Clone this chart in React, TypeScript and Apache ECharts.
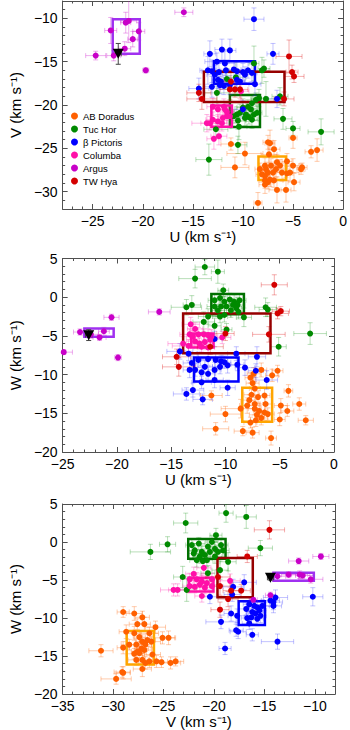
import { useEffect, useRef } from 'react';
import * as echarts from 'echarts';

const GROUP_NAMES = ['AB Doradus', 'Tuc Hor', 'β Pictoris', 'Columba', 'Argus', 'TW Hya'];
const POINT_COLORS = ['#ff6000', '#008a00', '#0000ff', '#ff10a8', '#c800c8', '#d40000'];
const ERR_COLORS = [
  'rgba(255,110,20,0.35)', 'rgba(0,140,0,0.28)', 'rgba(40,40,255,0.28)',
  'rgba(255,30,170,0.32)', 'rgba(200,0,200,0.32)', 'rgba(220,0,0,0.32)',
];
const BOX_COLORS = ['#ffa500', '#007000', '#0000ff', '#ff10a8', '#a030f0', '#960000'];

// Box extents: [Umin, Umax, Vmin, Vmax, Wmin, Wmax]
const abdorBox = [-8.45, -5.7, -28.65, -25.95, -16.1, -11.7];
const tucBox = [-11.3, -8.3, -22.55, -18.85, -2.2, 0.4];
const betaBox = [-12.9, -8.8, -17.55, -14.95, -10.9, -7.8];
const columbaBox = [-13.15, -11.1, -22.5, -20.05, -6.5, -4.7];
const argusBox = [-23.0, -20.3, -14.1, -10.1, -5.1, -4.05];
const twhyaBox = [-13.9, -5.85, -19.65, -16.15, -7.25, -2.1];

// Points: [x, y, xErr, yErr]
// ---------- U vs V ----------
const abdorUV = [
  [-8.5, -31.3, 0.4, 1.2], [-7.8, -29.2, 0.6, 1.0], [-7.5, -28.9, 0.5, 0.8], [-6.6, -29.8, 0.8, 1.5],
  [-5.7, -29.8, 0.5, 1.4], [-4.9, -28.9, 0.6, 1.0], [-4.2, -27.4, 0.4, 0.6], [-4.1, -27.2, 0.5, 0.5],
  [-5.0, -27.0, 0.6, 0.8], [-5.3, -27.8, 0.9, 1.0], [-5.6, -26.5, 0.5, 0.9], [-6.6, -26.6, 0.8, 0.9],
  [-6.9, -25.1, 0.6, 1.0], [-5.0, -23.8, 0.4, 1.2], [-3.2, -25.4, 0.6, 0.7], [-2.6, -25.2, 0.6, 1.3],
  [-11.2, -24.5, 1.0, 0.7], [-9.8, -25.6, 1.8, 1.3], [-10.8, -27.2, 1.4, 1.2], [-7.3, -24.4, 0.5, 1.5],
  [-7.5, -24.3, 0.5, 0.8], [-7.4, -25.7, 0.8, 1.0], [-7.8, -27.0, 0.6, 0.9], [-7.7, -27.4, 0.7, 0.8],
  [-7.5, -27.8, 0.5, 0.7], [-7.2, -27.0, 0.6, 0.8], [-7.0, -27.8, 0.7, 1.0], [-7.8, -28.2, 0.5, 0.6],
  [-8.1, -28.0, 0.6, 0.9], [-7.3, -28.6, 0.6, 0.8], [-6.7, -27.4, 0.8, 0.9], [-6.3, -27.0, 0.6, 0.7],
  [-6.1, -27.8, 0.7, 1.0], [-6.9, -28.7, 0.9, 0.8], [-7.8, -28.7, 0.6, 0.9], [-8.3, -27.4, 0.5, 0.7],
  [-5.6, -27.9, 0.6, 0.8],
];
const tucUV = [
  [-8.9, -15.2, 0.5, 2.0], [-7.9, -15.8, 0.6, 1.0], [-8.1, -16.0, 0.7, 1.5], [-11.6, -17.0, 0.8, 1.2],
  [-10.7, -16.8, 1.0, 1.8], [-12.6, -18.6, 1.2, 1.5], [-6.3, -19.0, 0.8, 1.0], [-7.7, -19.3, 1.5, 2.0],
  [-6.0, -21.6, 0.9, 1.2], [-5.0, -22.7, 0.7, 0.8], [-2.2, -23.1, 1.3, 1.5], [-12.7, -22.8, 1.2, 1.0],
  [-10.4, -22.5, 0.8, 1.5], [-10.5, -24.6, 0.9, 1.0], [-13.4, -26.3, 1.3, 1.8], [-10.0, -20.3, 0.6, 1.0],
  [-9.5, -20.2, 0.5, 0.8], [-9.1, -19.8, 0.6, 0.9], [-8.7, -19.4, 0.5, 0.8], [-8.4, -19.2, 0.6, 1.0],
  [-9.2, -20.5, 0.7, 0.9], [-9.7, -21.1, 0.5, 0.8], [-10.3, -20.9, 0.6, 1.0], [-10.6, -21.1, 0.7, 0.9],
  [-10.9, -21.3, 0.5, 0.8], [-10.5, -21.8, 0.8, 1.0], [-9.8, -21.5, 0.6, 0.9], [-9.4, -21.4, 0.5, 0.8],
  [-8.9, -21.1, 0.6, 0.7], [-8.6, -20.9, 0.5, 0.9], [-9.1, -21.7, 0.6, 1.0],
];
const betaUV = [
  [-8.9, -10.1, 1.0, 1.3], [-13.3, -14.1, 0.6, 1.5], [-12.1, -13.6, 0.7, 1.2], [-11.3, -13.7, 0.6, 1.3],
  [-7.0, -14.1, 0.6, 1.2], [-12.6, -15.0, 1.2, 1.0], [-11.8, -15.2, 1.0, 1.4], [-13.5, -16.0, 0.8, 1.6],
  [-13.1, -16.1, 1.0, 1.3], [-12.4, -16.2, 0.7, 1.0], [-11.7, -16.0, 0.6, 1.2], [-10.9, -15.9, 0.7, 1.0],
  [-10.6, -16.1, 0.8, 1.1], [-10.0, -16.2, 0.7, 1.0], [-9.5, -16.0, 0.6, 0.9], [-9.1, -16.3, 0.5, 1.0],
  [-9.8, -16.5, 0.7, 0.9], [-12.8, -16.5, 0.8, 1.1], [-12.5, -17.1, 0.6, 1.0], [-12.2, -17.3, 0.7, 0.9],
  [-12.3, -17.7, 0.8, 1.0], [-13.1, -17.9, 0.7, 1.2], [-11.9, -17.8, 0.6, 1.0], [-11.3, -17.7, 0.7, 1.1],
  [-10.6, -17.1, 0.6, 0.9], [-10.3, -17.3, 0.5, 1.0], [-8.8, -17.6, 0.6, 1.3], [-14.4, -18.1, 1.0, 1.2],
  [-6.6, -19.3, 0.9, 1.0], [-10.0, -20.5, 0.8, 1.0],
];
const columbaUV = [
  [-10.2, -18.4, 0.8, 1.0], [-13.0, -20.2, 0.6, 1.0], [-12.5, -20.5, 0.7, 0.8], [-11.9, -20.2, 0.5, 0.9],
  [-11.6, -21.3, 0.6, 0.8], [-11.3, -21.3, 0.5, 1.0], [-13.6, -22.1, 1.5, 1.0], [-13.3, -22.1, 0.9, 0.8],
  [-13.0, -21.7, 0.7, 0.9], [-12.5, -21.9, 0.6, 0.8], [-12.0, -21.5, 0.5, 0.9], [-11.6, -20.8, 0.7, 1.0],
  [-12.4, -23.6, 0.8, 1.0], [-12.9, -23.9, 0.7, 1.2], [-11.8, -20.5, 0.6, 0.8], [-12.1, -22.1, 0.5, 0.9],
];
const argusUV = [
  [-15.9, -9.3, 0.9, 0.5], [-23.2, -11.4, 0.6, 1.5], [-21.7, -10.5, 0.5, 1.2], [-21.4, -10.3, 0.8, 2.5],
  [-20.4, -11.5, 0.6, 1.0], [-21.0, -12.4, 0.5, 0.9], [-21.8, -13.5, 0.6, 0.8], [-24.7, -14.3, 1.0, 0.5],
  [-22.9, -14.3, 0.7, 0.6], [-19.7, -16.0, 0.3, 0.3],
];
const twhyaUV = [
  [-5.4, -14.4, 1.3, 1.9], [-5.1, -16.2, 0.6, 0.8], [-4.9, -16.7, 1.0, 0.7], [-11.2, -17.3, 0.8, 1.0],
  [-11.3, -18.2, 1.0, 1.2], [-10.8, -18.2, 0.7, 0.9], [-10.3, -18.2, 0.8, 1.0], [-14.4, -18.6, 1.2, 1.0],
  [-14.1, -19.3, 1.5, 1.2], [-5.9, -19.3, 1.0, 0.8],
];
const starUV = [[-22.45, -14.1, 0.3, 1.2]];

// ---------- U vs W ----------
const abdorUW = [
  [-5.2, -9.5, 0.5, 0.7], [-5.7, -10.1, 0.6, 0.8], [-6.7, -9.4, 0.5, 0.9], [-7.4, -9.9, 0.6, 0.8],
  [-7.7, -10.4, 0.5, 0.7], [-7.5, -11.1, 0.6, 0.8], [-7.3, -11.8, 0.5, 0.9], [-7.6, -12.6, 0.7, 0.8],
  [-7.8, -13.3, 0.6, 0.7], [-7.3, -13.8, 0.5, 0.9], [-8.0, -14.0, 0.7, 1.0], [-7.3, -14.4, 0.6, 0.8],
  [-6.9, -14.7, 0.5, 0.7], [-7.1, -15.2, 0.7, 0.8], [-6.7, -15.6, 0.6, 0.9], [-7.2, -15.9, 0.5, 0.8],
  [-7.7, -16.2, 0.6, 0.7], [-6.4, -14.9, 0.7, 1.0], [-6.3, -13.8, 0.6, 0.8], [-6.4, -12.7, 0.5, 0.9],
  [-7.0, -12.9, 0.6, 0.8], [-4.2, -12.1, 0.4, 0.8], [-4.9, -14.0, 0.6, 0.9], [-5.0, -15.8, 0.5, 0.8],
  [-4.3, -14.7, 0.6, 0.7], [-3.2, -13.8, 0.6, 0.8], [-2.6, -15.9, 0.7, 0.6], [-8.6, -14.4, 1.8, 1.2],
  [-10.0, -15.1, 1.4, 1.0], [-11.3, -12.7, 1.0, 0.6], [-10.9, -17.0, 1.2, 0.8], [-8.4, -17.3, 0.8, 0.6],
  [-7.5, -17.5, 0.6, 0.7], [-5.8, -18.2, 0.5, 0.9], [-6.1, -15.1, 0.6, 0.8],
];
const tucUW = [
  [-11.9, 3.9, 0.9, 1.0], [-10.7, 3.3, 0.6, 1.5], [-12.8, 2.4, 1.5, 1.2], [-10.2, 0.9, 0.5, 0.8],
  [-13.6, -1.3, 1.4, 1.0], [-13.1, -1.0, 0.8, 1.2], [-12.0, -3.2, 1.0, 1.3], [-11.0, -3.7, 0.6, 1.0],
  [-9.9, -4.2, 0.5, 0.8], [-8.3, -2.6, 0.7, 1.2], [-6.3, -1.3, 1.0, 1.2], [-6.1, -1.6, 0.8, 0.9],
  [-5.1, -6.4, 0.7, 1.2], [-2.2, -4.7, 1.5, 1.4], [-11.6, -2.5, 0.9, 1.0], [-10.5, -2.5, 0.7, 0.8],
  [-10.1, -2.3, 0.6, 0.9], [-11.0, -0.4, 0.6, 0.8], [-10.5, -0.1, 0.7, 0.9], [-10.1, -0.6, 0.5, 0.7],
  [-9.6, -0.3, 0.6, 0.8], [-9.2, -0.6, 0.5, 0.9], [-8.9, -1.0, 0.7, 1.0], [-8.7, -0.4, 0.6, 0.8],
  [-9.0, -1.4, 0.5, 0.7], [-9.5, -1.7, 0.6, 0.9], [-9.9, -1.2, 0.7, 0.8], [-10.4, -1.2, 0.5, 0.9],
  [-10.7, -1.7, 0.6, 0.8], [-11.0, -1.2, 0.7, 1.0], [-9.3, -1.0, 0.6, 0.8], [-8.8, -1.9, 0.5, 0.9],
];
const betaUW = [
  [-14.2, -7.0, 1.2, 1.0], [-13.4, -7.3, 0.8, 0.9], [-11.0, -5.4, 0.7, 1.0], [-13.1, -8.5, 0.8, 0.9],
  [-12.5, -8.1, 0.7, 1.0], [-11.6, -8.0, 0.6, 0.8], [-10.9, -8.1, 0.7, 0.9], [-10.4, -8.3, 0.6, 0.8],
  [-9.8, -8.8, 0.7, 1.0], [-9.0, -7.3, 0.8, 0.9], [-8.9, -8.7, 0.6, 0.8], [-10.5, -9.0, 0.7, 0.9],
  [-11.0, -9.4, 0.6, 1.0], [-11.9, -9.0, 0.7, 0.8], [-12.2, -9.7, 0.6, 0.9], [-12.8, -9.4, 0.7, 0.8],
  [-13.3, -9.4, 0.6, 1.0], [-11.6, -9.9, 0.7, 0.9], [-10.1, -8.4, 0.6, 0.8], [-7.1, -7.7, 0.8, 1.3],
  [-8.2, -9.1, 0.9, 1.0], [-7.2, -9.5, 0.7, 0.9], [-6.2, -10.7, 1.0, 1.2], [-11.0, -10.7, 0.8, 1.0],
  [-12.2, -11.0, 0.9, 0.8], [-9.8, -11.7, 0.7, 1.0], [-13.0, -12.0, 1.0, 0.9], [-13.6, -12.5, 1.2, 0.8],
  [-12.1, -13.2, 0.9, 0.7],
];
const columbaUW = [
  [-13.2, -3.5, 0.8, 0.9], [-12.8, -4.1, 0.7, 0.8], [-13.3, -4.8, 0.9, 0.7], [-13.0, -5.1, 0.6, 0.8],
  [-12.5, -4.8, 0.7, 0.9], [-12.0, -4.8, 0.6, 0.7], [-11.6, -4.9, 0.7, 0.8], [-11.3, -5.1, 0.6, 0.9],
  [-12.8, -5.7, 0.8, 0.8], [-12.4, -6.0, 0.6, 0.7], [-11.9, -5.8, 0.7, 0.9], [-11.4, -5.5, 0.6, 0.8],
  [-13.4, -6.3, 1.5, 0.8], [-12.2, -6.4, 0.7, 0.7], [-11.6, -6.5, 0.6, 0.8], [-10.3, -5.2, 0.8, 0.8],
  [-13.9, -6.0, 1.4, 0.9],
];
const argusUW = [
  [-24.9, -7.1, 0.8, 0.3], [-23.4, -4.5, 0.6, 0.4], [-22.4, -4.8, 0.7, 0.5], [-21.6, -5.2, 0.6, 0.4],
  [-21.2, -4.4, 0.5, 0.5], [-20.5, -2.6, 0.7, 0.4], [-19.9, -7.8, 0.3, 0.4], [-16.1, -1.9, 1.0, 0.4],
];
const twhyaUW = [
  [-5.5, 1.6, 1.2, 1.3], [-4.9, -1.8, 0.8, 0.6], [-5.2, -2.1, 1.0, 0.7], [-6.0, -4.8, 1.5, 1.0],
  [-10.0, -4.7, 0.8, 0.9], [-11.4, -6.4, 1.2, 1.0], [-14.5, -7.7, 1.3, 1.0], [-14.3, -9.0, 1.5, 1.2],
];
const starUW = [[-22.6, -4.9, 0.3, 0.7]];

// ---------- V vs W ----------
const abdorVW = [
  [-29.0, -9.2, 0.6, 0.7], [-27.9, -9.4, 0.8, 0.9], [-27.1, -9.9, 0.7, 0.8], [-26.9, -10.8, 0.6, 0.9],
  [-27.6, -10.8, 0.8, 0.7], [-26.4, -12.0, 0.9, 0.8], [-25.8, -11.2, 1.0, 0.8], [-28.7, -11.8, 0.7, 0.9],
  [-28.4, -13.5, 0.8, 0.7], [-29.0, -13.9, 0.6, 0.8], [-31.2, -14.3, 1.2, 0.8], [-27.9, -12.0, 0.7, 0.9],
  [-27.4, -12.5, 0.6, 0.8], [-27.1, -13.1, 0.7, 0.9], [-26.6, -12.9, 0.8, 0.8], [-26.2, -13.1, 0.9, 0.7],
  [-27.7, -13.5, 0.6, 0.8], [-27.2, -14.0, 0.7, 0.9], [-27.6, -14.4, 0.6, 0.8], [-27.9, -14.7, 0.8, 0.7],
  [-27.4, -14.6, 0.7, 0.8], [-26.8, -13.5, 0.6, 0.9], [-26.9, -14.2, 0.7, 0.8], [-27.1, -15.5, 0.6, 0.9],
  [-27.7, -15.5, 0.8, 0.7], [-26.4, -15.7, 0.7, 0.8], [-26.1, -14.8, 0.8, 0.9], [-25.7, -15.7, 0.6, 0.8],
  [-25.1, -12.6, 1.2, 0.8], [-24.5, -12.6, 0.7, 0.9], [-25.2, -15.8, 0.8, 0.7], [-24.3, -15.9, 1.0, 0.8],
  [-23.8, -15.7, 0.8, 0.6], [-29.1, -17.1, 0.8, 0.7], [-29.0, -17.2, 0.7, 0.8], [-29.7, -18.0, 1.5, 0.7],
  [-27.1, -16.7, 0.9, 1.0], [-26.8, -15.9, 0.7, 0.8],
];
const tucVW = [
  [-18.8, 3.8, 0.7, 1.2], [-16.8, 3.3, 1.0, 1.5], [-22.8, 2.5, 1.2, 1.3], [-19.8, 0.9, 0.6, 0.9],
  [-24.6, -0.3, 0.8, 1.0], [-26.3, -1.3, 2.0, 1.0], [-15.4, -0.8, 1.2, 1.0], [-18.6, -2.6, 0.8, 1.2],
  [-23.1, -4.6, 0.9, 1.4], [-22.7, -6.3, 1.0, 1.5], [-20.6, -4.1, 0.7, 1.0], [-19.4, -3.7, 0.8, 1.2],
  [-22.2, -0.4, 0.6, 0.8], [-21.9, -1.1, 0.7, 0.9], [-21.5, -0.2, 0.6, 0.8], [-21.2, -1.3, 0.7, 0.9],
  [-20.9, -1.7, 0.6, 0.8], [-20.6, -0.6, 0.7, 0.9], [-20.2, 0.0, 0.6, 0.8], [-19.9, -0.9, 0.7, 0.9],
  [-19.6, -1.3, 0.6, 0.8], [-19.3, -0.4, 0.7, 0.9], [-19.1, -1.1, 0.6, 0.8], [-21.4, -1.9, 0.7, 0.9],
  [-20.7, -2.4, 0.6, 0.8], [-19.9, -1.9, 0.7, 0.9], [-21.1, -2.5, 0.6, 0.8], [-21.7, -2.4, 0.7, 0.9],
  [-22.0, -1.5, 0.6, 0.8], [-20.4, -1.3, 0.7, 0.9],
];
const betaVW = [
  [-17.0, -5.3, 1.2, 1.0], [-20.4, -7.2, 0.8, 0.9], [-18.1, -5.9, 1.0, 1.0], [-18.2, -6.9, 0.8, 0.9],
  [-18.3, -9.4, 0.7, 1.0], [-17.7, -9.7, 0.9, 0.9], [-19.3, -10.5, 1.5, 0.9], [-17.8, -11.6, 0.7, 0.8],
  [-17.6, -11.8, 0.8, 0.9], [-16.2, -12.2, 0.6, 0.8], [-18.9, -14.0, 0.6, 0.8], [-13.7, -13.1, 1.6, 1.0],
  [-16.8, -8.8, 0.7, 0.8], [-16.5, -8.2, 0.6, 0.9], [-16.0, -8.4, 0.7, 0.8], [-15.7, -8.6, 0.6, 0.9],
  [-15.5, -9.0, 0.7, 0.8], [-16.2, -9.2, 0.6, 0.9], [-15.9, -9.4, 0.7, 0.8], [-15.4, -9.7, 0.6, 0.9],
  [-16.3, -9.9, 0.7, 0.8], [-15.7, -10.1, 0.6, 0.9], [-15.2, -8.4, 0.7, 0.8], [-16.7, -10.0, 0.6, 0.9],
  [-16.5, -10.7, 0.7, 0.8], [-14.1, -7.9, 0.9, 1.0], [-14.1, -8.4, 0.8, 0.9], [-13.9, -7.3, 1.2, 1.0],
  [-14.4, -7.7, 0.9, 0.8], [-10.2, -7.2, 1.0, 1.2],
];
const columbaVW = [
  [-22.0, -4.2, 0.8, 0.9], [-21.0, -3.4, 0.7, 0.8], [-22.4, -4.9, 0.9, 0.8], [-21.7, -4.9, 0.7, 0.9],
  [-21.2, -5.2, 0.8, 0.8], [-20.7, -5.4, 0.7, 0.9], [-20.2, -4.9, 0.8, 0.8], [-22.4, -5.8, 0.7, 0.9],
  [-21.9, -5.9, 0.8, 0.8], [-21.4, -5.6, 0.7, 0.9], [-20.9, -6.0, 0.8, 0.8], [-20.2, -5.8, 0.7, 0.9],
  [-24.0, -6.3, 1.3, 0.8], [-23.6, -6.3, 0.9, 0.8], [-21.2, -7.1, 0.7, 0.8], [-18.4, -5.1, 1.0, 0.9],
];
const argusVW = [
  [-9.4, -1.9, 0.8, 0.4], [-11.6, -2.5, 1.0, 0.4], [-13.7, -4.5, 0.8, 0.5], [-12.6, -4.3, 0.7, 0.4],
  [-11.5, -4.3, 0.8, 0.5], [-11.2, -4.4, 0.7, 0.4], [-10.4, -4.9, 1.2, 0.5], [-14.4, -7.0, 0.5, 0.4],
  [-16.1, -7.6, 0.4, 0.3],
];
const twhyaVW = [
  [-14.5, 1.6, 1.5, 1.2], [-16.7, -1.9, 1.0, 0.8], [-19.6, -4.6, 1.2, 1.0], [-19.4, -5.8, 1.0, 1.2],
  [-18.3, -6.4, 0.8, 1.0], [-17.3, -6.4, 0.9, 0.8], [-18.6, -7.5, 1.0, 1.0], [-19.4, -8.9, 0.9, 1.0],
];
const starVW = [[-14.4, -4.7, 0.3, 0.3]];

// Axis ranges and tick labels
const U_RANGE_1 = [-28, 0];
const V_RANGE_1 = [-32, -8];
const U_RANGE_2 = [-25, 0];
const W_RANGE = [-20, 5];
const V_RANGE_3 = [-35, -8];
const U_TICKS = [-25, -20, -15, -10, -5, 0];
const V_TICKS_1 = [-30, -25, -20, -15, -10];
const W_TICKS = [-20, -15, -10, -5, 0, 5];
const V_TICKS_3 = [-35, -30, -25, -20, -15, -10];

const FONT = "'Liberation Sans', Arial, Helvetica, sans-serif";
const FRAME = '#505050';
const fmt = (v: number) => (v < 0 ? '\u2212' + Math.abs(v) : String(v));

function buildAxes(kind: 'x' | 'y', gridIndex: number, range: number[], ticks: number[], name: string, nameGap: number) {
  const mainPos = kind === 'x' ? 'bottom' : 'left';
  const mirrorPos = kind === 'x' ? 'top' : 'right';
  const base = { type: 'value', gridIndex, min: range[0], max: range[1], splitLine: { show: false } };
  const major = (pos: string, labels: boolean) => ({
    ...base,
    position: pos,
    axisLine: { show: true, onZero: false, lineStyle: { color: FRAME, width: 1 } },
    axisTick: { show: true, inside: true, length: 5, customValues: ticks, lineStyle: { color: FRAME, width: 1 } },
    axisLabel: labels
      ? { show: true, customValues: ticks, formatter: fmt, margin: 5, fontSize: 14, color: '#000', fontFamily: FONT }
      : { show: false },
    ...(labels
      ? { name, nameLocation: 'middle', nameGap, nameTextStyle: { fontSize: 15, color: '#000', fontFamily: FONT } }
      : {}),
  });
  const minor = (pos: string) => ({
    ...base,
    position: pos,
    interval: 1,
    axisLine: { show: false, onZero: false },
    axisTick: { show: true, inside: true, length: 2.5, lineStyle: { color: FRAME, width: 1 } },
    axisLabel: { show: false },
  });
  return [major(mainPos, true), minor(mainPos), major(mirrorPos, false), minor(mirrorPos)];
}

const errRender = (color: string, cap: number) => (params: any, api: any) => {
  const x = api.value(0);
  const y = api.value(1);
  const ex = api.value(2);
  const ey = api.value(3);
  const l = api.coord([x - ex, y]);
  const r = api.coord([x + ex, y]);
  const t = api.coord([x, y + ey]);
  const b = api.coord([x, y - ey]);
  const style = { stroke: color, lineWidth: 1, fill: null };
  return {
    type: 'group',
    children: [
      { type: 'line', shape: { x1: l[0], y1: l[1], x2: r[0], y2: r[1] }, style },
      { type: 'line', shape: { x1: t[0], y1: t[1], x2: b[0], y2: b[1] }, style },
      { type: 'line', shape: { x1: l[0], y1: l[1] - cap, x2: l[0], y2: l[1] + cap }, style },
      { type: 'line', shape: { x1: r[0], y1: r[1] - cap, x2: r[0], y2: r[1] + cap }, style },
      { type: 'line', shape: { x1: t[0] - cap, y1: t[1], x2: t[0] + cap, y2: t[1] }, style },
      { type: 'line', shape: { x1: b[0] - cap, y1: b[1], x2: b[0] + cap, y2: b[1] }, style },
    ],
  };
};

const boxRender = (color: string) => (params: any, api: any) => {
  const p0 = api.coord([api.value(0), api.value(3)]);
  const p1 = api.coord([api.value(1), api.value(2)]);
  return {
    type: 'rect',
    shape: { x: p0[0], y: p0[1], width: p1[0] - p0[0], height: p1[1] - p0[1] },
    style: { fill: 'none', stroke: color, lineWidth: 2.5 },
  };
};

export default function App() {
  const ref = useRef<HTMLDivElement>(null);
  useEffect(() => {
    if (!ref.current) return;
    const chart = echarts.init(ref.current, null, { renderer: 'svg' });
    const boxes = [abdorBox, tucBox, betaBox, columbaBox, argusBox, twhyaBox];
    const panels = [
      { data: [abdorUV, tucUV, betaUV, columbaUV, argusUV, twhyaUV], star: starUV, dims: [0, 1, 2, 3] },
      { data: [abdorUW, tucUW, betaUW, columbaUW, argusUW, twhyaUW], star: starUW, dims: [0, 1, 4, 5] },
      { data: [abdorVW, tucVW, betaVW, columbaVW, argusVW, twhyaVW], star: starVW, dims: [2, 3, 4, 5] },
    ];
    const series: any[] = [];
    panels.forEach((panel, p) => {
      const axisIdx = { xAxisIndex: p * 4, yAxisIndex: p * 4 };
      panel.data.forEach((arr, g) => {
        series.push({
          type: 'custom', name: GROUP_NAMES[g] + ' errors', ...axisIdx, clip: true, silent: true,
          renderItem: errRender(ERR_COLORS[g], 2.5), encode: { x: 0, y: 1 }, data: arr,
        });
        series.push({
          type: 'scatter', name: GROUP_NAMES[g], ...axisIdx, symbol: 'circle', symbolSize: 6,
          itemStyle: { color: POINT_COLORS[g], opacity: 1 }, data: arr.map((d) => [d[0], d[1]]),
        });
        const bx = boxes[g];
        series.push({
          type: 'custom', name: GROUP_NAMES[g] + ' box', ...axisIdx, silent: true,
          renderItem: boxRender(BOX_COLORS[g]), encode: { x: [0, 1], y: [2, 3] },
          data: [[bx[panel.dims[0]], bx[panel.dims[1]], bx[panel.dims[2]], bx[panel.dims[3]]]],
        });
      });
      series.push({
        type: 'custom', name: 'star errors', ...axisIdx, clip: true, silent: true,
        renderItem: errRender('#444444', 2.5), encode: { x: 0, y: 1 }, data: panel.star,
      });
      series.push({
        type: 'scatter', name: 'star', ...axisIdx, symbol: 'triangle', symbolRotate: 180, symbolSize: [11, 10],
        itemStyle: { color: '#000', opacity: 1 }, data: panel.star.map((d) => [d[0], d[1]]),
      });
    });

    chart.setOption({
      animation: false,
      backgroundColor: '#fff',
      textStyle: { fontFamily: FONT },
      grid: [
        { left: 51, top: 1, width: 296, height: 208 },
        { left: 59.5, top: 258.5, width: 274.5, height: 193.5 },
        { left: 59, top: 504, width: 276, height: 193 },
      ],
      xAxis: [
        ...buildAxes('x', 0, U_RANGE_1, U_TICKS, 'U (km s\u207B\u00B9)', 18),
        ...buildAxes('x', 1, U_RANGE_2, U_TICKS, 'U (km s\u207B\u00B9)', 18),
        ...buildAxes('x', 2, V_RANGE_3, V_TICKS_3, 'V (km s\u207B\u00B9)', 18),
      ],
      yAxis: [
        ...buildAxes('y', 0, V_RANGE_1, V_TICKS_1, 'V (km s\u207B\u00B9)', 37),
        ...buildAxes('y', 1, W_RANGE, W_TICKS, 'W (km s\u207B\u00B9)', 37),
        ...buildAxes('y', 2, W_RANGE, W_TICKS, 'W (km s\u207B\u00B9)', 37),
      ],
      legend: {
        orient: 'vertical', left: 66, top: 105, icon: 'circle', itemWidth: 7, itemHeight: 7, itemGap: 1,
        selectedMode: false,
        textStyle: { fontSize: 9.5, lineHeight: 12, color: '#000', fontFamily: FONT },
        data: GROUP_NAMES,
      },
      series,
    });
    return () => chart.dispose();
  }, []);
  return <div ref={ref} style={{ position: 'absolute', left: 0, top: 0, width: 350, height: 730 }} />;
}
